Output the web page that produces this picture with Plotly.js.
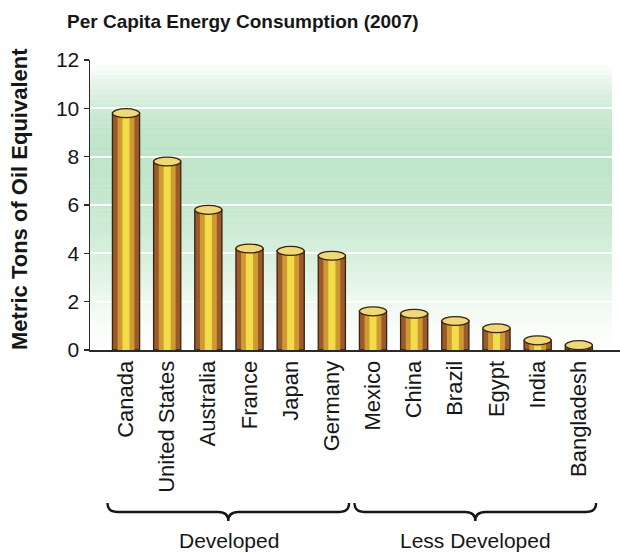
<!DOCTYPE html>
<html>
<head>
<meta charset="utf-8">
<script src="https://cdn.plot.ly/plotly-3.0.1.min.js"></script>
<style>
  html, body { margin: 0; padding: 0; background: #ffffff; }
  #chart { width: 620px; height: 554px; }
</style>
</head>
<body>
<div id="chart"></div>
<script>
// Per capita energy use, metric tons of oil equivalent (2007)
const countries = ["Canada", "United States", "Australia", "France", "Japan", "Germany",
                   "Mexico", "China", "Brazil", "Egypt", "India", "Bangladesh"];
const consumption = [9.8, 7.8, 5.8, 4.2, 4.1, 3.9, 1.6, 1.5, 1.2, 0.9, 0.4, 0.2];
const groups = ["Developed", "Less Developed"];
const groupStart = [0, 6];
const groupEnd = [5, 11];
const yTicks = [0, 2, 4, 6, 8, 10, 12];

const FONT = "'Liberation Sans', Arial, Helvetica, sans-serif";
const INK = "#161616";

// plot geometry
const M = { l: 90, r: 0, t: 60, b: 204 };
const W = 620, H = 554;
const plotW = W - M.l - M.r, plotH = H - M.t - M.b;
const xRange = [-0.875, 12.0];
const yRange = [0, 12];
const barW = 0.66;

// pixel -> paper helpers for decorations outside the plot area
const pxX = px => (px - M.l) / plotW;
const pxY = py => (M.t + plotH - py) / plotH;
const idxToPx = i => M.l + (i - xRange[0]) / (xRange[1] - xRange[0]) * plotW;

// cylinder body: brown shell, gold band, bright highlight
const body = {
  type: "bar", x: countries, y: consumption, width: barW,
  marker: { color: "#9a5a2b", line: { color: "#3a230f", width: 1.3 } },
  hoverinfo: "skip"
};
const band = {
  type: "bar", x: countries, y: consumption, width: barW * 0.62,
  marker: { color: "#cf9a34", line: { width: 0 } }, hoverinfo: "skip"
};
const shine = {
  type: "bar", x: countries, y: consumption, width: barW * 0.26,
  marker: { color: "#f2dc48", line: { width: 0 } }, hoverinfo: "skip"
};

const shapes = [];

// soft green backdrop, strongest in the upper-middle of the plot
const stops = [
  [0, "#ffffff"], [1, "#f9fcf9"], [2, "#eef8ef"], [3, "#e2f3e5"], [4, "#d6efdc"],
  [5, "#cdebd4"], [6, "#c6e8cf"], [7, "#c1e6cb"], [8, "#bee5c9"], [9, "#bfe5ca"],
  [10, "#cfebd6"], [11, "#e6f4e9"], [11.6, "#f7fbf7"], [12, "#ffffff"]
];
function hex(c) { return [1, 3, 5].map(k => parseInt(c.substr(k, 2), 16)); }
function mix(a, b, t) {
  const A = hex(a), B = hex(b);
  return "rgb(" + A.map((v, k) => Math.round(v + (B[k] - v) * t)).join(",") + ")";
}
const step = 0.2;
for (let y = 0; y < 12 - 1e-9; y += step) {
  const yc = y + step / 2;
  let s = 0;
  while (s < stops.length - 2 && stops[s + 1][0] < yc) s++;
  const t = (yc - stops[s][0]) / (stops[s + 1][0] - stops[s][0]);
  shapes.push({
    type: "rect", layer: "below", xref: "paper", yref: "y",
    x0: 0, x1: 0.985, y0: y, y1: y + step + 0.01,
    fillcolor: mix(stops[s][1], stops[s + 1][1], Math.max(0, Math.min(1, t))),
    line: { width: 0 }
  });
}

// elliptical cylinder tops
const capHalf = 0.185;
consumption.forEach((v, i) => {
  shapes.push({
    type: "circle", layer: "above", xref: "x", yref: "y",
    x0: i - barW / 2, x1: i + barW / 2, y0: v - capHalf, y1: v + capHalf,
    fillcolor: "#efd878", line: { color: "#3a230f", width: 1.3 }
  });
});

// curly braces under each country group
function bracePath(i0, i1) {
  const xL = idxToPx(i0 - 0.45), xR = idxToPx(i1 + 0.42), xM = (xL + xR) / 2;
  const yTip = 503, yMid = 512, yPeak = 521, r = 10;
  const P = (x, y) => pxX(x).toFixed(5) + "," + pxY(y).toFixed(5);
  return "M" + P(xL, yTip) +
    " Q" + P(xL, yMid) + " " + P(xL + r, yMid) +
    " L" + P(xM - r, yMid) +
    " Q" + P(xM, yMid) + " " + P(xM, yPeak) +
    " Q" + P(xM, yMid) + " " + P(xM + r, yMid) +
    " L" + P(xR - r, yMid) +
    " Q" + P(xR, yMid) + " " + P(xR, yTip);
}
groups.forEach((g, k) => {
  shapes.push({
    type: "path", xref: "paper", yref: "paper",
    path: bracePath(groupStart[k], groupEnd[k]),
    line: { color: INK, width: 2.4 }
  });
});

const annotations = [
  {
    text: "<b>Per Capita Energy Consumption (2007)</b>",
    xref: "paper", yref: "paper", x: pxX(65), y: pxY(22),
    xanchor: "left", yanchor: "middle", showarrow: false,
    font: { family: FONT, size: 19, color: INK }
  },
  {
    text: "<b>Metric Tons of Oil Equivalent</b>",
    xref: "paper", yref: "paper", x: pxX(19), y: pxY(199),
    xanchor: "center", yanchor: "middle", textangle: -90, showarrow: false,
    font: { family: FONT, size: 22, color: INK }
  }
];
groups.forEach((g, k) => {
  annotations.push({
    text: g, xref: "x", yref: "paper",
    x: (groupStart[k] + groupEnd[k]) / 2, y: pxY(540),
    xanchor: "center", yanchor: "middle", showarrow: false,
    font: { family: FONT, size: 21, color: INK }
  });
});

const layout = {
  width: W, height: H,
  margin: M,
  paper_bgcolor: "#ffffff",
  plot_bgcolor: "rgba(0,0,0,0)",
  barmode: "overlay",
  showlegend: false,
  font: { family: FONT, color: INK },
  xaxis: {
    type: "category", range: xRange, autorange: false,
    tickangle: -90, ticks: "", showgrid: false, zeroline: false,
    showline: true, linecolor: "#2a2a2a", linewidth: 2,
    tickfont: { family: FONT, size: 22, color: INK },
    fixedrange: true
  },
  yaxis: {
    range: yRange, autorange: false,
    tickvals: yTicks, ticktext: yTicks.map(String),
    ticks: "outside", ticklen: 5, tickwidth: 1.5, tickcolor: "#2a2a2a",
    showline: true, linecolor: "#2a2a2a", linewidth: 1.5,
    showgrid: true, gridcolor: "#ffffff", gridwidth: 2,
    zeroline: false,
    tickfont: { family: FONT, size: 21, color: INK },
    fixedrange: true
  },
  shapes: shapes,
  annotations: annotations
};

Plotly.newPlot("chart", [body, band, shine], layout, { displayModeBar: false, staticPlot: true });
</script>
</body>
</html>
